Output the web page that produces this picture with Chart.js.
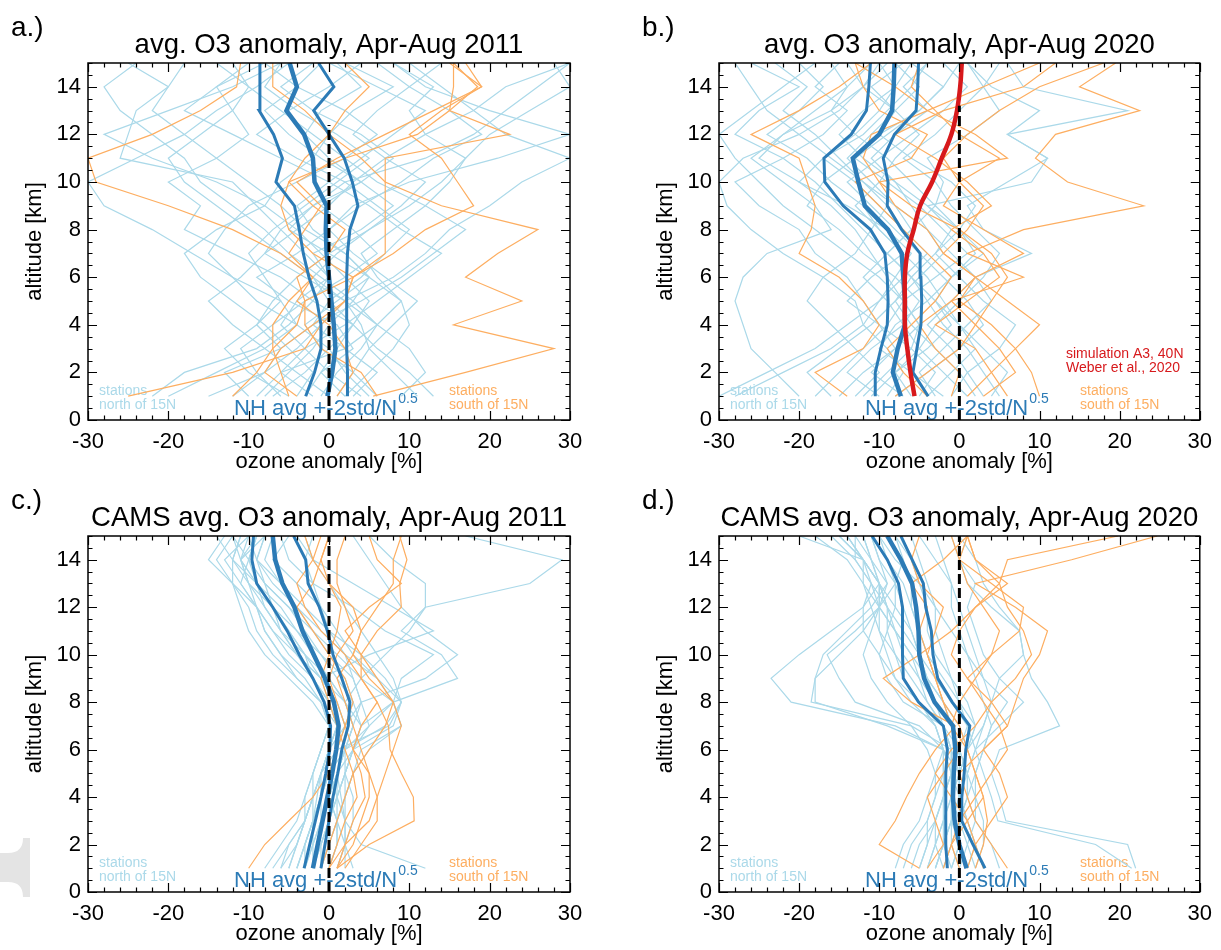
<!DOCTYPE html>
<html>
<head>
<meta charset="utf-8">
<script src="https://cdn.jsdelivr.net/npm/chart.js@4.4.1/dist/chart.umd.min.js"></script>
<style>
html, body { margin: 0; padding: 0; background: #fff; }
#wrap { position: relative; width: 1221px; height: 950px; overflow: hidden; }
#wrap canvas { position: absolute; }
</style>
</head>
<body>
<div id="wrap">
	<canvas id="pa" width="610" height="475" style="left:0;top:0"></canvas>
	<canvas id="pb" width="611" height="475" style="left:610px;top:0"></canvas>
	<canvas id="pc" width="610" height="475" style="left:0;top:475px"></canvas>
	<canvas id="pd" width="611" height="475" style="left:610px;top:475px"></canvas>
</div>
<script>
// altitude levels [km], same for every profile
const ALT = [1, 2, 3, 4, 5, 6, 7, 8, 9, 10, 11, 12, 13, 14, 15];
const xTicks = [-30, -20, -10, 0, 10, 20, 30];
const yTicks = [0, 2, 4, 6, 8, 10, 12, 14];

// ---- a.) sondes 2011 ----
const aNorth = [
	[-8, -5, -2, 0, 3, 5, 2, -3, -6, -10, -14, -18, -22, -20, -25],
	[2, 5, 8, 10, 9, 6, 4, 8, 12, 15, 17, 20, 25, 30, 28],
	[-12, -8, -6, -9, -7, -4, 0, 5, 10, 14, 17, 12, 10, 13, 8],
	[-3, -1, 1, 3, -2, -6, -12, -18, -16, -20, -14, -10, -12, -10, -12],
	[5, 2, 0, -4, -9, -12, -15, -13, -10, -4, 2, 6, 2, -4, -8],
	[-22, -18, -9, -5, -2, 0, -3, -6, -9, -12, -26, -25, -24, -20, -18],
	[0, -4, -8, -12, -15, -11, -8, -4, 0, 3, 7, 12, 18, 22, 30],
	[11, 8, 5, 4, 2, 8, 12, 15, 20, 24, 30, 22, 18, 14, 10],
	[-1, 1, 4, 6, 3, -1, -5, -8, -12, -16, -18, -22, -26, -28, -24],
	[-6, -9, -11, -7, -3, 2, 6, 3, -1, 4, 8, 4, -2, -6, -2],
	[3, 6, 2, -2, 0, 4, 7, 10, 6, 2, -4, -9, -5, 0, 4],
	[-10, -13, -6, -2, 4, 9, 13, 17, 12, 6, 2, -2, -6, -10, -14],
	[9, 12, 10, 6, 2, -3, -8, -6, -2, 2, 12, 18, 22, 26, 30],
	[-4, -2, -5, -8, -12, -16, -18, -14, -8, -6, -2, 0, 3, 8, 2],
	[1, 3, -1, -3, 1, 5, 2, -2, -4, 0, 4, 8, 12, 6, 0],
	[-15, -8, -4, -1, 2, -2, -6, -10, -14, -18, -20, -16, -12, -14, -8],
	[6, 3, 5, 8, 11, 7, 3, 0, 4, 9, 13, 19, 15, 10, 6],
	[-2, -6, -3, 2, 6, 10, 14, 9, 5, 0, -6, -12, -18, -14, -10],
	[4, 0, -3, -6, -4, 0, -2, 4, 8, 4, -1, -5, -8, -4, -1],
	[-7, -3, 0, 3, 5, 2, -1, -4, -8, -14, -22, -28, -20, -12, -6],
	[13, 10, 6, 3, 0, -2, 1, 5, 9, 12, 7, 3, 6, 10, 14],
	[-5, -10, -13, -9, -6, -8, -10, -7, -3, 1, 5, 1, -4, -8, -6],
	[2, -1, 3, 1, -5, -9, -4, 0, 3, 10, 21, 30, 20, 12, 8],
	[-9, -6, 2, 6, 9, 5, 0, -5, -2, 4, 0, -3, -1, 4, 1],
	[-20, -14, -8, -4, -6, -12, -17, -22, -28, -30, -24, -18, -14, -9, -5]
];
const aSouth = [
	[5.5, 17, 28, 15.5, 24, 17, 21, 26, 14, 7, 7, 22.5, 15, 18.5, 15.5],
	[-12, -9, -7, -7, -5, -2, -6, -12, -20, -29, -30, -22, -16, -11.5, -11],
	[-25, -12, -3, -1, 2, 3, -2, -5, -6, -5, 2, 11, 15, 15.5, 15.5],
	[-5, -6, -7, -4, -3, 3, 7, 7, 7, 7, 4, 0, -3, -7, -7],
	[1, 3, 2, 0, -4, -2, -5, -3, -1, -4, 1, 7, 13, 19, 17],
	[6, 4, -1, -3, -3, -4, 0, 2, -2, -5, -3, 0, 2, 5, 2],
	[-4, -8, -6, -2, 2, 3, 8, 12, 18, 16, 14, 10, 14, 19, 15]
];
const aMean = [-0.2, 0.4, 0.8, 0.6, 0.3, 0.0, -0.3, -0.4, -0.3, -1.8, -2.0, -3.1, -5.3, -4.0, -4.9];
const aLow = [-2.9, -1.8, -1.0, -1.0, -1.5, -2.5, -3.2, -3.7, -4.3, -6.6, -5.8, -6.9, -8.7, -8.6, -8.6];
const aHigh = [2.3, 2.3, 2.2, 2.2, 2.2, 2.2, 2.3, 2.6, 3.6, 2.9, 1.9, 0.0, -1.9, 0.6, -1.3];

// ---- b.) sondes 2020 ----
const bNorth = [
	[-28, -22, -16, -12, -13, -17, -22, -26, -29, -30, -27, -20, -15, -12, -10],
	[-5, -3, -6, -10, -12, -14, -18, -20, -25, -28, -22, -17, -14, -18, -15],
	[-20, -23, -26, -27, -28, -27, -24, -16, -18, -22, -26, -22, -16, -12, -14],
	[2, 0, -3, -6, -8, -5, -2, -4, -8, -12, -16, -20, -24, -26, -28],
	[-12, -9, -6, -5, -7, -9, -11, -13, -16, -20, -25, -22, -18, -14, -16],
	[-8, -4, 0, 3, 1, -2, -5, -8, -11, -14, -10, -6, -2, 1, -2],
	[-2, -6, -10, -8, -4, -1, 3, 0, -4, -8, -12, -15, -12, -8, -10],
	[-15, -12, -8, -10, -14, -11, -7, -10, -12, -16, -19, -24, -20, -17, -20],
	[5, 3, 1, -2, -4, -6, -3, 0, 2, -1, -6, -10, -5, -2, 0],
	[-10, -14, -11, -7, -5, -8, -12, -15, -19, -17, -13, -10, -8, -12, -9],
	[-6, -8, -4, -1, -3, -6, -9, -6, -3, -6, -9, -13, -16, -14, -11],
	[3, 1, -1, -4, -1, 2, 9, 3, 1, 6, 11, 6, 21, 8, 6],
	[-18, -15, -12, -9, -7, -10, -14, -18, -22, -25, -28, -30, -26, -22, -18],
	[-4, -1, 2, 0, -2, -4, -7, -10, -13, -10, -8, -5, -8, -11, -7],
	[-9, -7, -9, -12, -10, -7, -4, -7, -10, -13, -17, -12, -9, -6, -4],
	[-30, -24, -18, -14, -10, -8, -6, -9, -14, -20, -17, -13, -10, -8, -6],
	[1, -2, -5, -3, 0, 3, 5, 2, -1, -3, -7, -3, 0, 3, 5],
	[-13, -10, -13, -16, -19, -17, -13, -11, -9, -12, -15, -18, -22, -19, -23],
	[-7, -11, -8, -5, -7, -3, 1, -2, -5, -9, -13, -9, -5, -2, -6],
	[-3, -5, -2, 1, 4, 2, -1, -4, -6, -8, -11, -8, -4, -7, -4],
	[-11, -8, -5, -7, -9, -12, -9, -6, -8, -11, -14, -11, -8, -5, -8],
	[4, 6, 3, 0, -3, -1, 2, 0, -3, -2, -4, 1, 5, 3, 1],
	[-16, -19, -15, -11, -8, -6, -9, -12, -15, -18, -22, -28, -25, -20, -26],
	[-1, 1, 5, 7, 3, 0, -3, -1, -4, 9, 11, 6, 10, 4, 1]
];
const bSouth = [
	[3, 7, 5, 2, -1, 8, 1, 8, 23, 13.5, 9.5, 12, 22.5, 15, 19.5],
	[-14, -18, -12, -10, -12, -15, -20, -18.5, -18, -19, -20, -26, -20, -15, -11],
	[-8, -4, 0, 2, 4, 6, 4, 0, -6, -10, -12, -11, -4, 3, 10],
	[-1, 0, -3, -5, -1, 2, 8, 3, -2, 0, 5, 0, -3, -6, -5],
	[1, 4, 7, 10, 6, 2, -2, -4, -8, -10, 6, 2, -4, -8, -13],
	[-4, -7, -9, -6, -3, -1, -4, -7, -10, -13, -6, -4, -10, -12, -13],
	[6, 4, 2, -3, 1, 5, 3, -1, 4, 1, -3, -8, -2, 8, 12],
	[10, 9, 7, 4, 0, 2, -2, 1, 3, 0, -2, 1, 5, 10, 18]
];
const bMean = [-7.3, -8.3, -7.7, -6.8, -6.8, -7.0, -7.2, -8.9, -11.8, -12.6, -13.3, -10.0, -8.4, -8.2, -8.1];
const bLow = [-10.5, -10.5, -9.8, -9.0, -8.9, -9.0, -9.3, -11.1, -14.5, -16.8, -16.9, -13.5, -11.6, -11.3, -11.1];
const bHigh = [-3.9, -5.8, -5.3, -4.8, -4.7, -4.8, -4.9, -7.2, -9.0, -8.9, -9.5, -8.1, -5.4, -5.2, -5.1];
// simulation A3, 40N (Weber et al., 2020)
const bSim = [-5.6, -6.1, -6.5, -6.8, -6.8, -6.8, -6.5, -5.7, -4.9, -3.4, -2.2, -1.0, -0.3, 0.1, 0.3];

// ---- c.) CAMS 2011 ----
const cNorth = [
	[-4, -3, -2, -1.5, -1, 0, 1, 0, -2, -4, -6, -8, -10, -12, -11],
	[-2, -1, 0, 1, 2, 3, 4, 3, 1, -1, -3, -5, -8, -10, -12],
	[1, 2, 2, 1.5, 1, 2, 5, 8, 9, 13, 7, 3, -2, -5, -6],
	[-5, -4, -3, -2, -1, 1, 2, 1, -1, -4, -7, -9, -11, -13, -10],
	[-3, -2, -2, -1, 0, 2, 7, 9, 7, 4, 0, -3, -6, -8, -7],
	[0, 1, 1, 2, 3, 5, 9, 8, 6, 2, -1, -4, -7, -9, -8],
	[-6, -5, -3, -2, -1, 0, 1, -1, -4, -7, -9, -10, -12, -12, -11],
	[12, 4, 2, 1, 0, 1, 2, 4, 12, 16, 12, 9, 7, 5, 3],
	[-1, 0, 0, 1, 2, 3, 4, 8, 16, 14, 9, 12, 25, 29, 17],
	[-4, -3, -2, -1, 0, 1, 1, 0, -1, -3, -5, -7, -9, -10, -9],
	[-2, -2, -1, 0, 1, 2, 3, 2, 0, -2, -4, -6, -9, -11, -9],
	[-7, -5, -3, -2, -2, -1, 0, -2, -5, -8, -10, -11, -12, -15, -13],
	[0, 0, 1, 2, 2, 3, 8, 9, 6, 3, 1, -1, -4, -7, -5],
	[-3, -2, -1, -1, 0, 1, 2, 1, -1, 5, 13, 8, 3, -2, -4],
	[-1, 0, 1, 1, 2, 2, 3, 4, 3, 0, -2, -4, -6, -9, -10],
	[-5, -4, -3, -3, -2, -1, 0, -1, -3, -6, -8, -9, -12, -14, -12],
	[2, 2, 2, 2, 3, 4, 9, 8, 4, 1, -2, -5, -8, -10, -9],
	[-2, -1, 0, 0, 1, 2, 3, 2, 4, 7, 10, 12, 12, 8, 5],
	[-8, -6, -4, -3, -2, -1, 0, -1, -4, -6, -8, -9, -10, -11, -10],
	[1, 2, 3, 3, 2, 3, 4, 2, -1, -4, -6, -7, -9, -11, -12],
	[-3, -3, -2, -1, -1, 0, 2, 3, 2, -1, -4, -7, -10, -11, -8],
	[0, 1, 1, 0, 0, 1, 7.5, 9, 8, 6, 4, 2, 0, -2, -3],
	[-6, -4, -3, -2, -1, 0, 1, 0, -2, -5, -7, -9, -11, -10, -9],
	[-1, -1, 0, 1, 1, 2, 3, 2, 0, -3, -5, -7, -8, -9, -8],
	[-4, -3, -2, -2, -1, 0, 1, 0, -2, -3, -6, -8, -9, -12, -14],
	[3, 2, 1, 0, 1, 3, 5, 4, 3, 2, 0, -1, -2, -3, -2]
];
const cSouth = [
	[-10, -8, -5, -2, 0, 1, 2, 3, 2, 0, -2, -4, -2, -1, 0],
	[1, 5, 10.6, 10.5, 9, 7.6, 7.4, 6, 4, 4, 6, 9, 8.8, 9.7, 8.8],
	[0, 1, 2, 3.5, 3, 2, 1, 0, -1, 0, 1, 1.5, 0, -2, -3],
	[1, 3, 4, 5, 5, 4, 3, 2, 1, 3, 4, 3, 0, -1, 0],
	[2, 4, 6, 6, 5, 3, 2, 1, 0, 1, 3, 2, 1, 1, 2],
	[-1, 0, 1, 2, 3, 5, 7, 8, 5, 3, 4, 6, 8, 8, 9],
	[1, 2, 3, 4.5, 4, 3, 4, 6, 4, 2, -1, -3, -4, -2, -1],
	[0, 2, 5, 6, 7, 8, 9, 8, 6, 4, 2, 5, 9, 6, 5]
];
const cMean = [-2.0, -1.4, -0.8, -0.2, 0.4, 0.9, 1.2, 0.6, -0.5, -1.9, -3.3, -4.3, -5.8, -6.7, -7.0];
const cLow = [-3.1, -2.4, -1.7, -1.0, -0.4, 0.1, 0.2, -0.6, -2.0, -3.7, -5.2, -7.0, -9.0, -9.6, -9.4];
const cHigh = [-1.0, -0.5, 0.0, 0.5, 1.1, 1.6, 2.4, 2.6, 1.6, 0.5, -0.2, -1.2, -2.6, -2.9, -4.4];

// ---- d.) CAMS 2020 ----
const dNorth = [
	[-3, -2, -1, 0, 0, -2, -8, -21, -23.5, -20, -16, -12, -10, -12, -15],
	[-2, -1, 0, 0, -1, -2, -9, -18, -18, -17, -14, -11, -9, -11, -13],
	[-1, -2, -1, 0, 0, -1, -6, -18.5, -18, -15, -12, -10, -10, -12, -14],
	[-4, -3, -2, -1, -1, -2, -5, -13, -15, -16.5, -13, -10, -8, -10, -11],
	[22, 21, 5.8, 5, 4, 5, 12.5, 11, 9, 8, 7.5, 5, 3, 2, 0],
	[21.5, 17, 4.8, 4, 3, 2, 3, 4, 3, 2, 1, 0, -1, -3, -5],
	[-5, -4, -3, -2, -1, -1, -2, -4, -6, -8, -9, -9, -10, -12, -14],
	[-2, -1, 0, 1, 1, 0, -1, -3, -5, -7, -8, -10, -11, -12, -15],
	[1, 0, -1, -1, 0, 1, 2, 0, -2, -4, -5, -6, -6, -7, -9],
	[-6, -5, -3, -2, -2, -2, -3, -5, -8, -10, -12, -12, -11, -13, -16],
	[3, 2, 1, 0, 0, 1, 3, 4, 5, 8, 7.5, 4, 1, 0, -1],
	[-1, 0, 0, 1, 2, 3, 4, 6, 3, 1, -1, -3, -5, -8, -10],
	[-7, -6, -4, -3, -3, -4, -6, -9, -11, -12, -11, -10, -9, -10, -11],
	[0, -1, -1, 0, 1, 2, 1, -1, -3, -5, -6, -7, -8, -9, -11],
	[-3, -2, -2, -1, -1, -1, -2, -3, -4, -5, -7, -9, -11, -13, -13],
	[2, 1, 0, -1, -1, 0, 1, 0, -1, -2, -3, -3, -4, -5, -6],
	[-4, -3, -2, -2, -1, 0, -1, -2, -3, -4, -5, -6, -7, -9, -10],
	[-8, -7, -5, -4, -3, -2, -3, -6, -8, -9, -10, -11, -12, -14, -18],
	[1, 2, 1, 0, 0, 1, 2, 1, -1, -3, -4, -4, -5, -6, -8],
	[-2, -3, -3, -2, -1, -1, -2, -4, -5, -6, -8, -9, -10, -11, -12],
	[5, 4, 2, 1, 1, 2, 5, 8, 5, 3, 2, 1, 2, 0, 1],
	[-1, 0, 0, 0, 0, 1, 0, -2, -4, -6, -8, -10, -12, -12, -14],
	[-5, -4, -4, -3, -2, -2, -3, -5, -7, -8, -10, -10, -10, -11, -12],
	[0, 1, 2, 2, 1, 0, -1, -2, -4, -5, -6, -8, -10, -12, -20],
	[2, 3, 3, 2, 2, 3, 4, 3, 2, 1, 0, -1, -1, -2, -3],
	[-3, -2, -1, -1, 0, 0, -2, -7, -9, -10, -9, -8, -8, -7, -8]
];
const dSouth = [
	[-5, -10, -8, -6.6, -5, -3, -0.5, -6, -9.5, -5, -1, 2, 5, 6, 19.8],
	[6, 4, 2, 1, 0, 3, 6, 7, 8, 10, 11, 7, 2, 14, 24.7],
	[2, 3, 3.5, 3, 2, 1, 0, -2, -3, -4, -5, -4, -6, -2, 1],
	[-2, -1, 0, 2, 4, 6, 5, 3, 1, 4, 7.5, 8, 4, 0, -1],
	[1, 2, 4, 6, 5, 3, 6, 4, 7, 9, 8, 6, 5, 2, 1],
	[-4, -2, -3, -4, -2, 0, -1, -2, -3, -4, -3, -2, -5, -6, -5],
	[3, 2, 1, -1, -3, -1, 2, 4, 1, -1, 0, 2, 6, 2, 1],
	[0, -1, 1, 3, 2, 1, -1, 0, 2, 4, 5, 3, 1, 0, 1]
];
const dMean = [0.9, 0.0, -0.6, -0.8, -0.7, -0.5, -0.8, -3.1, -4.4, -5.0, -5.1, -5.4, -5.9, -7.3, -9.0];
const dLow = [-1.5, -1.7, -1.7, -1.7, -1.7, -1.5, -2.0, -5.1, -7.0, -7.1, -7.1, -7.1, -7.6, -9.0, -10.9];
const dHigh = [3.2, 1.7, 0.3, 0.3, 0.6, 0.8, 1.3, -0.9, -2.7, -3.3, -3.5, -4.2, -4.5, -5.9, -7.3];

// top of the dashed zero line per panel [km]
const zeroTop = [12.4, 13.2, 15, 15];

const FONT = "'Liberation Sans', Arial, Helvetica, sans-serif";
const C_NORTH = '#abd9e9';
const C_SOUTH = '#fdae61';
const C_AVG = '#2c7bb6';
const C_SIM = '#d7191c';

Chart.defaults.font.family = FONT;
Chart.defaults.color = '#000';

function profile(values) {
	return values.map((x, i) => ({ x: x, y: ALT[i] }));
}

// frame, inward ticks and all the text of one panel
const decoPlugin = {
	id: 'deco',
	beforeDatasetsDraw(chart, args, o) {
		const ctx = chart.ctx, ca = chart.chartArea;
		ctx.save();
		ctx.textAlign = 'left';
		ctx.textBaseline = 'alphabetic';
		ctx.font = '14px ' + FONT;
		ctx.fillStyle = C_NORTH;
		ctx.fillText('stations', ca.left + 11, ca.bottom - 25);
		ctx.fillText('north of 15N', ca.left + 11, ca.bottom - 11);
		ctx.fillStyle = C_SOUTH;
		ctx.fillText('stations', ca.left + 361, ca.bottom - 25);
		ctx.fillText('south of 15N', ca.left + 361, ca.bottom - 11);
		if (o.sim) {
			ctx.fillStyle = C_SIM;
			ctx.fillText('simulation A3, 40N', ca.left + 347, ca.bottom - 62);
			ctx.fillText('Weber et al., 2020', ca.left + 347, ca.bottom - 48);
		}
		ctx.fillStyle = C_AVG;
		ctx.font = '22px ' + FONT;
		const main = 'NH avg +-2std/N';
		ctx.fillText(main, ca.left + 146, ca.bottom - 5);
		const w = ctx.measureText(main).width;
		ctx.font = '14px ' + FONT;
		ctx.fillText('0.5', ca.left + 147 + w, ca.bottom - 17);
		ctx.restore();
	},
	afterDraw(chart, args, o) {
		const ctx = chart.ctx, ca = chart.chartArea;
		const xs = chart.scales.x, ys = chart.scales.y;
		ctx.save();
		ctx.strokeStyle = '#000';
		ctx.lineWidth = 1.2;
		ctx.beginPath();
		for (let v = xs.min; v <= xs.max + 1e-6; v += 2) {
			const px = Math.round(xs.getPixelForValue(v)) + 0.5;
			const len = (Math.round(v) % 10 === 0) ? 9 : 4.5;
			ctx.moveTo(px, ca.bottom); ctx.lineTo(px, ca.bottom - len);
			ctx.moveTo(px, ca.top); ctx.lineTo(px, ca.top + len);
		}
		for (let v = ys.min; v <= ys.max + 1e-6; v += 0.5) {
			const py = Math.round(ys.getPixelForValue(v)) + 0.5;
			const len = (Math.abs(v % 2) < 1e-6) ? 9 : 4.5;
			ctx.moveTo(ca.left, py); ctx.lineTo(ca.left + len, py);
			ctx.moveTo(ca.right, py); ctx.lineTo(ca.right - len, py);
		}
		ctx.stroke();
		ctx.lineWidth = 1.5;
		ctx.strokeRect(ca.left, ca.top, ca.right - ca.left, ca.bottom - ca.top);

		ctx.fillStyle = '#000';
		ctx.textBaseline = 'alphabetic';
		ctx.textAlign = 'left';
		ctx.font = '28px ' + FONT;
		ctx.fillText(o.letter, ca.left - 77, ca.top - 27);
		ctx.textAlign = 'center';
		ctx.font = '27.5px ' + FONT;
		ctx.fillText(o.title, (ca.left + ca.right) / 2, ca.top - 10);
		ctx.font = '22px ' + FONT;
		ctx.fillText('ozone anomaly [%]', (ca.left + ca.right) / 2, ca.bottom + 48);
		ctx.save();
		ctx.translate(ca.left - 53, (ca.top + ca.bottom) / 2);
		ctx.rotate(-Math.PI / 2);
		ctx.textBaseline = 'middle';
		ctx.fillText('altitude [km]', 0, 0);
		ctx.restore();

		if (o.smudge) {
			// grey scanning leftover at the left edge of panel c
			ctx.fillStyle = '#e4e4e4';
			ctx.beginPath();
			ctx.moveTo(30, ca.bottom - 54);
			ctx.lineTo(30, ca.bottom + 5);
			ctx.lineTo(23, ca.bottom + 5);
			ctx.quadraticCurveTo(23, ca.bottom - 10, 8, ca.bottom - 10);
			ctx.lineTo(0, ca.bottom - 10);
			ctx.lineTo(0, ca.bottom - 39);
			ctx.lineTo(8, ca.bottom - 39);
			ctx.quadraticCurveTo(23, ca.bottom - 39, 23, ca.bottom - 54);
			ctx.closePath();
			ctx.fill();
		}
		ctx.restore();
	}
};

function buildPanel(p) {
	const canvas = document.getElementById(p.id);
	const W = canvas.width, H = canvas.height;
	const sets = [];
	p.north.forEach(v => sets.push({
		data: profile(v), borderColor: C_NORTH, borderWidth: 1.2, order: 6
	}));
	p.south.forEach(v => sets.push({
		data: profile(v), borderColor: C_SOUTH, borderWidth: 1.2, order: 5
	}));
	sets.push({ data: profile(p.low), borderColor: C_AVG, borderWidth: 3, order: 4 });
	sets.push({ data: profile(p.high), borderColor: C_AVG, borderWidth: 3, order: 4 });
	sets.push({ data: profile(p.mean), borderColor: C_AVG, borderWidth: 4.5, order: 3 });
	if (p.sim) {
		sets.push({ data: profile(p.sim), borderColor: C_SIM, borderWidth: 4.5, tension: 0.4, order: 2 });
	}
	sets.push({
		data: [{ x: 0, y: 0 }, { x: 0, y: p.zero }],
		borderColor: '#000', borderWidth: 3, borderDash: [10, 4], order: 1
	});
	sets.forEach(s => {
		s.showLine = true;
		s.pointRadius = 0;
		s.fill = false;
		if (s.tension === undefined) s.tension = 0;
	});

	return new Chart(canvas, {
		type: 'scatter',
		data: { datasets: sets },
		plugins: [decoPlugin],
		options: {
			responsive: false,
			animation: false,
			events: [],
			layout: { padding: { left: 0, top: p.area.top, right: W - p.area.right, bottom: 0 } },
			plugins: {
				legend: { display: false },
				title: { display: false },
				tooltip: { enabled: false },
				deco: { letter: p.letter, title: p.title, sim: !!p.sim, smudge: !!p.smudge }
			},
			scales: {
				x: {
					type: 'linear', min: -30, max: 30,
					afterBuildTicks: s => { s.ticks = xTicks.map(v => ({ value: v })); },
					afterFit: s => { s.height = H - p.area.bottom; },
					grid: { display: false, drawTicks: false },
					border: { display: false },
					ticks: { font: { size: 22 }, color: '#000', padding: 9, maxRotation: 0, autoSkip: false }
				},
				y: {
					type: 'linear', min: 0, max: 15,
					afterBuildTicks: s => { s.ticks = yTicks.map(v => ({ value: v })); },
					afterFit: s => { s.width = p.area.left; },
					grid: { display: false, drawTicks: false },
					border: { display: false },
					ticks: { font: { size: 22 }, color: '#000', padding: 7, autoSkip: false }
				}
			}
		}
	});
}

document.addEventListener('DOMContentLoaded', () => {
	const panels = [
		{ id: 'pa', letter: 'a.)', title: 'avg. O3 anomaly, Apr-Aug 2011',
			north: aNorth, south: aSouth, mean: aMean, low: aLow, high: aHigh, zero: zeroTop[0],
			area: { left: 88, right: 570, top: 63, bottom: 420 } },
		{ id: 'pb', letter: 'b.)', title: 'avg. O3 anomaly, Apr-Aug 2020',
			north: bNorth, south: bSouth, mean: bMean, low: bLow, high: bHigh, zero: zeroTop[1], sim: bSim,
			area: { left: 109, right: 591, top: 63, bottom: 420 } },
		{ id: 'pc', letter: 'c.)', title: 'CAMS avg. O3 anomaly, Apr-Aug 2011',
			north: cNorth, south: cSouth, mean: cMean, low: cLow, high: cHigh, zero: zeroTop[2], smudge: true,
			area: { left: 88, right: 570, top: 61, bottom: 417 } },
		{ id: 'pd', letter: 'd.)', title: 'CAMS avg. O3 anomaly, Apr-Aug 2020',
			north: dNorth, south: dSouth, mean: dMean, low: dLow, high: dHigh, zero: zeroTop[3],
			area: { left: 109, right: 591, top: 61, bottom: 417 } }
	];
	window.charts = panels.map(buildPanel);
});
</script>
</body>
</html>
